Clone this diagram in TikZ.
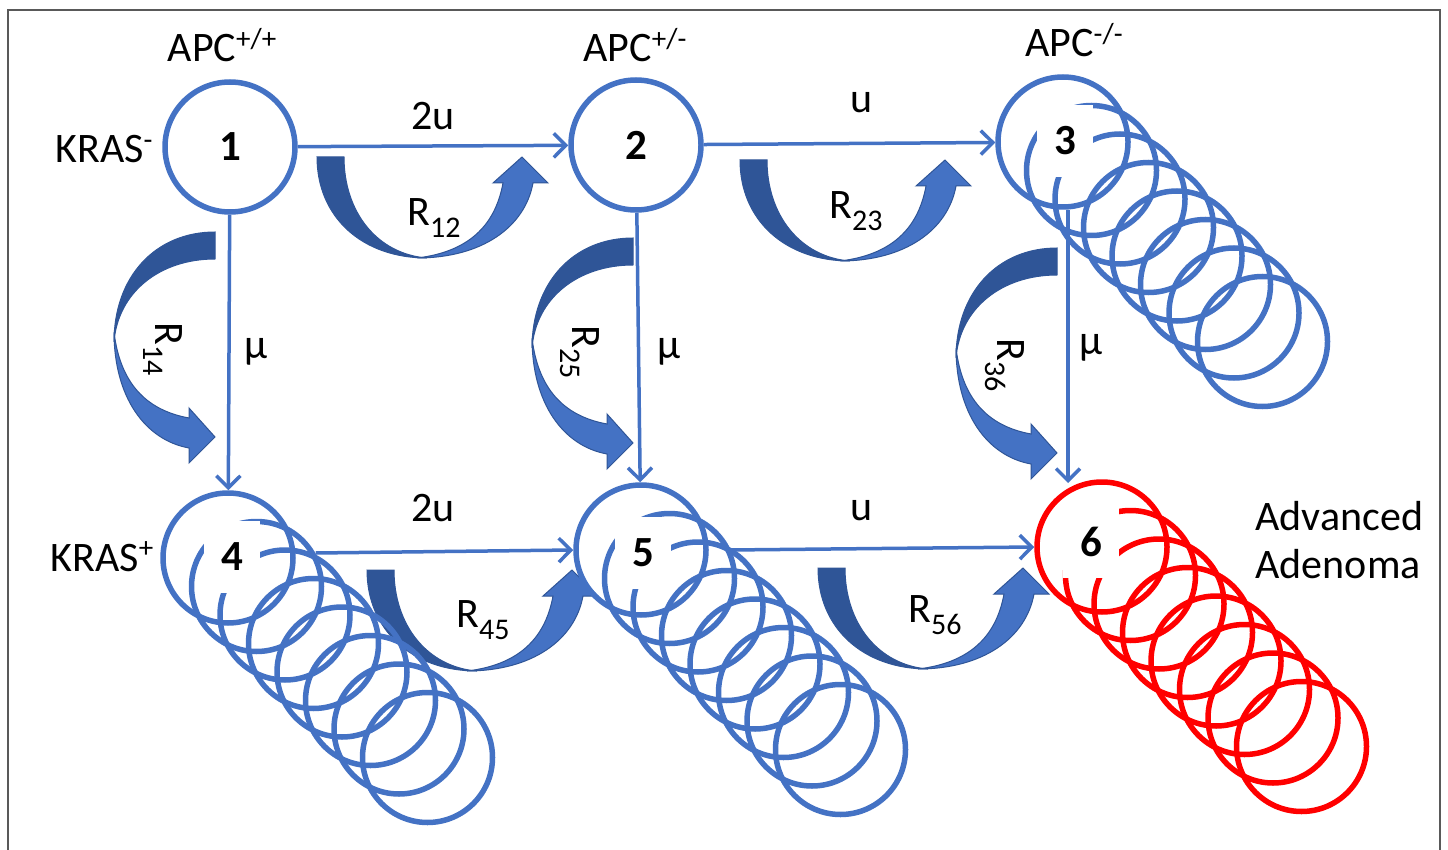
\documentclass[tikz,border=0pt]{standalone}
\usepackage{fontspec}
\setmainfont{Carlito}
\usetikzlibrary{arrows.meta,positioning,calc}
\usepackage{xcolor}

\definecolor{nodeblue}{HTML}{4472C4}
\definecolor{darkblue}{HTML}{2F5597}
\definecolor{aared}{HTML}{FF0000}
\definecolor{framegray}{HTML}{595959}

\newcommand\rsub[1]{\raisebox{-0.28em}{\fontsize{30}{30}\selectfont #1}}
\newcommand\rsup[1]{\raisebox{0.33em}{\fontsize{29}{29}\selectfont #1}}

% bent rate arrow, drawn in its own frame
\newcommand\rateshape[1]{%
  \begin{scope}[#1]
    \filldraw[fill=darkblue,draw=darkblue,line width=1] (0,0) -- (27,0) .. controls (27,55) and (60,97) .. (110,101) .. controls (45,101) and (0,60) .. (0,0) -- cycle;
    \filldraw[fill=nodeblue,draw=darkblue,line width=1] (100,101) .. controls (165,101) and (208,70) .. (216,26) -- (231,26) -- (205,0) -- (176,26) -- (186,26) .. controls (178,70) and (150,95) .. (100,101) -- cycle;
  \end{scope}}

\begin{document}
\begin{tikzpicture}[x=1pt,y=-1pt,font=\fontsize{42}{50}\selectfont,
    state/.style={circle,draw=nodeblue,line width=5.5,minimum size=130,inner sep=0},
    num/.style={fill=white,font=\fontsize{43}{43}\selectfont\bfseries,minimum width=56,minimum height=72,inner sep=0},
    flow/.style={draw=nodeblue,line width=3.5,-{Straight Barb[length=12pt,width=24pt]}}]
	\useasboundingbox (0,0) rectangle (1448,850);
	\draw[framegray,line width=1.5] (8,10) rectangle (1440,870);

	% rate arrows
	\rateshape{shift={(317,157)}}
	\rateshape{shift={(740,160)}}
	\rateshape{shift={(367,570)}}
	\rateshape{shift={(818,568)}}
	\rateshape{shift={(215,232)},x={(0pt,-1pt)},y={(-1pt,0pt)}}
	\rateshape{shift={(633,238)},x={(0pt,-1pt)},y={(-1pt,0pt)}}
	\rateshape{shift={(1057,248)},x={(0pt,-1pt)},y={(-1pt,0pt)}}

	% states
	\node[state] (n1) at (230,147) {};
	\node[state] (n2) at (636,145) {};
	\node[state] (n3) at (1063,142) {};
	\node[state] (n4) at (228,558) {};
	\node[state] (n5) at (641,550) {};
	\node[state,draw=aared] (n6) at (1102,547) {};
	\foreach \k in {1,...,7} {
		\node[state] (s3\k) at ($(n3)+(28.5*\k,28.5*\k)$) {};
		\node[state] (s4\k) at ($(n4)+(28.5*\k,28.5*\k)$) {};
		\node[state] (s5\k) at ($(n5)+(28.5*\k,28.5*\k)$) {};
		\node[state,draw=aared] (s6\k) at ($(n6)+(28.5*\k,28.5*\k)$) {};
	}
	\node[num] (l1) at (n1) {1};
	\node[num] (l2) at (n2) {2};
	\node[num] (l3) at (1065,141) {3};
	\node[num] (l4) at (232,557) {4};
	\node[num] (l5) at (643,553) {5};
	\node[num] (l6) at (1091,542) {6};

	% transitions
	\coordinate (m6) at (1068,483);
	\draw[flow] (n1) -- (n2);
	\draw[flow] (n2) -- (n3);
	\draw[flow] ([xshift=20pt,yshift=5pt]n4.east) -- (n5.west);
	\draw[flow] ([xshift=20pt]n5.east) -- (n6.west);
	\draw[flow] (n1) -- (n4);
	\draw[flow] (n2) -- (n5);
	\draw[flow] ([xshift=5pt]n3.south) -- (m6);

	% texts
	\node[anchor=base] (apc1) at (222,62) {APC\rsup{+/+}};
	\node[anchor=base] (apc2) at (635,62) {APC\rsup{+/-}};
	\node[anchor=base] (apc3) at (1074,57) {APC\rsup{-/-}};
	\node[anchor=base] (kneg) at (104,163) {KRAS\rsup{-}};
	\node[anchor=base] (kpos) at (102,571) {KRAS\rsup{+}};
	\node[anchor=base] (t12) at (433,130) {2u};
	\node[anchor=base] (t23) at (862,113) {u};
	\node[anchor=base] (t45) at (433,521) {2u};
	\node[anchor=base] (t56) at (862,520) {u};
	\node[anchor=base] (t14) at (256,358) {μ};
	\node[anchor=base] (t25) at (669,358) {μ};
	\node[anchor=base] (t36) at (1091,354) {μ};
	\node (r12) at (434,218) {R\rsub{12}};
	\node (r23) at (856,211) {R\rsub{23}};
	\node (r45) at (483,620) {R\rsub{45}};
	\node (r56) at (935,615) {R\rsub{56}};
	\node[rotate=-90] (r14) at (163,349) {R\rsub{14}};
	\node[rotate=-90] (r25) at (580,352) {R\rsub{25}};
	\node[rotate=-90] (r36) at (1005,365) {R\rsub{36}};
	\node[anchor=base west] (adv) at (1252,530) {Advanced};
	\node[anchor=base west] (ade) at (1252,578) {Adenoma};
\end{tikzpicture}
\end{document}
